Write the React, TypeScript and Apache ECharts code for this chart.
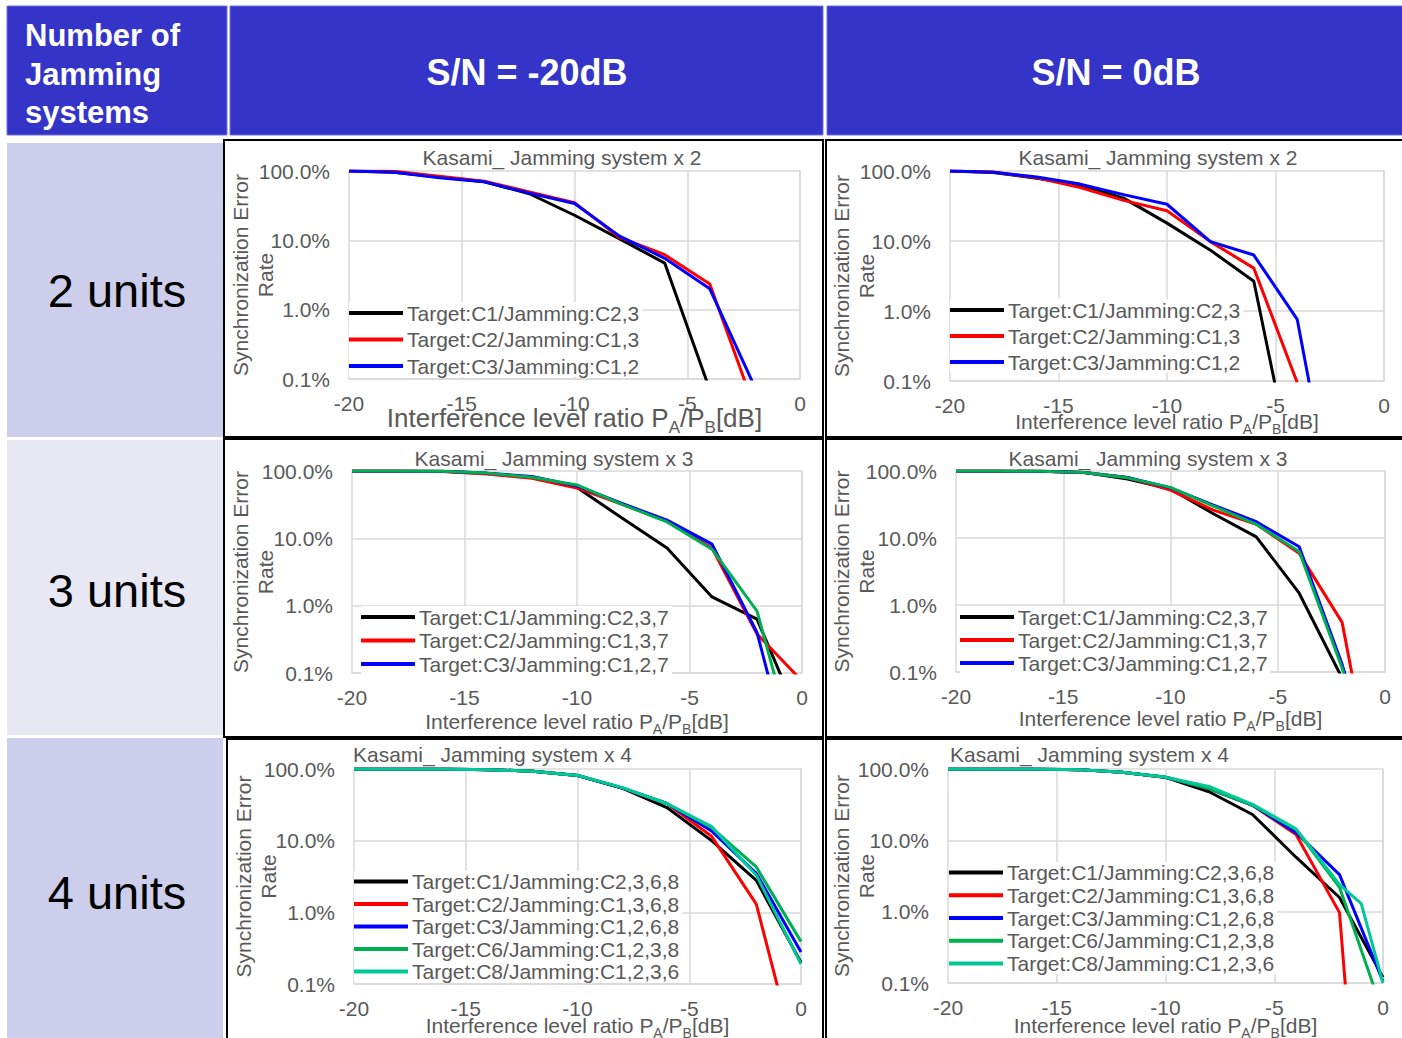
import React, { useEffect, useRef } from "react";
import * as echarts from "echarts";

// ---------- DATA ----------
const XS = [-20, -18, -16, -14, -12, -10, -8, -6, -4, -2, 0];
const XS_EXTRA = [-20, -18, -16, -14, -12, -10, -8, -6, -4, -2, -1, 0];

const NAMES_2 = ["Target:C1/Jamming:C2,3", "Target:C2/Jamming:C1,3", "Target:C3/Jamming:C1,2"];
const NAMES_3 = ["Target:C1/Jamming:C2,3,7", "Target:C2/Jamming:C1,3,7", "Target:C3/Jamming:C1,2,7", "Target:C7/Jamming:C1,2,3"];
const NAMES_4 = [
  "Target:C1/Jamming:C2,3,6,8",
  "Target:C2/Jamming:C1,3,6,8",
  "Target:C3/Jamming:C1,2,6,8",
  "Target:C6/Jamming:C1,2,3,8",
  "Target:C8/Jamming:C1,2,3,6",
];

// S/N = -20dB, 2 units
const SN20_U2_C1 = [1.0, 0.96, 0.82, 0.7, 0.47, 0.23, 0.105, 0.047, 0.0007, null, null];
const SN20_U2_C2 = [1.0, 0.99, 0.84, 0.71, 0.5, 0.35, 0.11, 0.062, 0.0235, 0.00037, null];
const SN20_U2_C3 = [1.0, 0.96, 0.8, 0.7, 0.48, 0.34, 0.115, 0.055, 0.02, 0.00076, null];
// S/N = 0dB, 2 units
const SN0_U2_C1 = [1.0, 0.95, 0.79, 0.63, 0.41, 0.18, 0.074, 0.0266, 0.000026, null, null];
const SN0_U2_C2 = [1.0, 0.97, 0.8, 0.58, 0.38, 0.27, 0.098, 0.041, 0.00095, null, null];
const SN0_U2_C3 = [1.0, 0.96, 0.82, 0.65, 0.46, 0.335, 0.098, 0.063, 0.0076, 0.000004, null];
// S/N = -20dB, 3 units
const SN20_U3_C1 = [1.0, 1.0, 0.99, 0.92, 0.8, 0.57, 0.2, 0.072, 0.0135, 0.0063, 0.00017];
const SN20_U3_C2 = [1.0, 1.0, 0.98, 0.9, 0.78, 0.56, 0.32, 0.18, 0.072, 0.0038, 0.00076];
const SN20_U3_C3 = [1.0, 1.0, 0.99, 0.93, 0.83, 0.6, 0.33, 0.186, 0.082, 0.004, 0.000011];
const SN20_U3_C7 = [1.0, 1.0, 0.99, 0.93, 0.81, 0.62, 0.32, 0.175, 0.069, 0.0083, 0.00003];
// S/N = 0dB, 3 units
const SN0_U3_C1 = [1.0, 1.0, 0.99, 0.95, 0.76, 0.54, 0.23, 0.104, 0.015, 0.00081, null];
const SN0_U3_C2 = [1.0, 1.0, 0.99, 0.94, 0.8, 0.52, 0.26, 0.16, 0.059, 0.0055, 0.0000025];
const SN0_U3_C3 = [1.0, 1.0, 0.99, 0.95, 0.8, 0.56, 0.31, 0.175, 0.074, 0.0013, 0.00001];
const SN0_U3_C7 = [1.0, 1.0, 0.99, 0.95, 0.79, 0.57, 0.3, 0.16, 0.063, 0.00115, 0.00001];
// S/N = -20dB, 4 units
const SN20_U4_C1 = [1, 1, 1, 0.98, 0.93, 0.81, 0.54, 0.29, 0.1, 0.028, 0.002];
const SN20_U4_C2 = [1, 1, 1, 0.98, 0.93, 0.81, 0.54, 0.33, 0.115, 0.013, 0.00005];
const SN20_U4_C3 = [1, 1, 1, 0.98, 0.93, 0.81, 0.54, 0.33, 0.137, 0.035, 0.0028];
const SN20_U4_C6 = [1, 1, 1, 0.98, 0.93, 0.82, 0.55, 0.33, 0.152, 0.043, 0.0039];
const SN20_U4_C8 = [1, 1, 1, 0.98, 0.93, 0.81, 0.55, 0.33, 0.157, 0.033, 0.0019];
// S/N = 0dB, 4 units
const SN0_U4_C1 = [1, 1, 1, 0.98, 0.9, 0.765, 0.48, 0.23, 0.058, 0.0158, 0.0012];
const SN0_U4_C2 = [1, 1, 1, 0.98, 0.9, 0.765, 0.53, 0.31, 0.121, 0.0097, 2.5e-10];
const SN0_U4_C3 = [1, 1, 1, 0.98, 0.9, 0.765, 0.53, 0.31, 0.128, 0.033, 0.00105];
const SN0_U4_C6 = [1, 1, 1, 0.98, 0.9, 0.765, 0.53, 0.31, 0.142, 0.022, 0.00038];
const SN0_U4_C8 = [1, 1, 1, 0.98, 0.9, 0.77, 0.57, 0.32, 0.145, 0.024, 0.013, 0.001];

const ROW_LABELS = ["2 units", "3 units", "4 units"];
const COL_LABELS = ["S/N = -20dB", "S/N = 0dB"];
const CHART_TITLES = ["Kasami_ Jamming system x 2", "Kasami_ Jamming system x 3", "Kasami_ Jamming system x 4"];

// ---------- STYLE ----------
const FONT = '"Liberation Sans", Arial, sans-serif';
const GRAY = "#595959";
const GRIDC = "#D9D9D9";
const COLORS = ["#000000", "#FF0000", "#0000FF", "#00B050", "#00C896"];

type Panel = {
  title: string;
  titleX: number;
  titleY: number;
  titleAlign: string;
  grid: { left: number; top: number; width: number; height: number };
  xNameSize: number;
  xNameGap: number;
  yNameGap: number;
  legend: { left: number; top: number; lineHeight: number; gap: number; names: string[] };
  series: { name: string; xs: number[]; ys: (number | null)[] }[];
};

const PANELS: Panel[] = [
  {
    title: CHART_TITLES[0], titleX: 562, titleY: 157, titleAlign: "center",
    grid: { left: 349, top: 171, width: 451, height: 208 },
    xNameSize: 26, xNameGap: 21, yNameGap: 71,
    legend: { left: 349, top: 302, lineHeight: 22, gap: 4.5, names: NAMES_2 },
    series: [
      { name: NAMES_2[0], xs: XS, ys: SN20_U2_C1 },
      { name: NAMES_2[1], xs: XS, ys: SN20_U2_C2 },
      { name: NAMES_2[2], xs: XS, ys: SN20_U2_C3 },
    ],
  },
  {
    title: CHART_TITLES[0], titleX: 1158, titleY: 157, titleAlign: "center",
    grid: { left: 950, top: 171, width: 434, height: 210 },
    xNameSize: 21, xNameGap: 26, yNameGap: 71,
    legend: { left: 950, top: 299, lineHeight: 22, gap: 4, names: NAMES_2 },
    series: [
      { name: NAMES_2[0], xs: XS, ys: SN0_U2_C1 },
      { name: NAMES_2[1], xs: XS, ys: SN0_U2_C2 },
      { name: NAMES_2[2], xs: XS, ys: SN0_U2_C3 },
    ],
  },
  {
    title: CHART_TITLES[1], titleX: 554, titleY: 458, titleAlign: "center",
    grid: { left: 352, top: 471, width: 450, height: 202 },
    xNameSize: 21, xNameGap: 34, yNameGap: 74,
    legend: { left: 361, top: 606, lineHeight: 22, gap: 1.5, names: NAMES_3.slice(0, 3) },
    series: [
      { name: NAMES_3[0], xs: XS, ys: SN20_U3_C1 },
      { name: NAMES_3[1], xs: XS, ys: SN20_U3_C2 },
      { name: NAMES_3[2], xs: XS, ys: SN20_U3_C3 },
      { name: NAMES_3[3], xs: XS, ys: SN20_U3_C7 },
    ],
  },
  {
    title: CHART_TITLES[1], titleX: 1148, titleY: 458, titleAlign: "center",
    grid: { left: 956, top: 471, width: 429, height: 201 },
    xNameSize: 21, xNameGap: 32, yNameGap: 77,
    legend: { left: 960, top: 606, lineHeight: 22, gap: 1, names: NAMES_3.slice(0, 3) },
    series: [
      { name: NAMES_3[0], xs: XS, ys: SN0_U3_C1 },
      { name: NAMES_3[1], xs: XS, ys: SN0_U3_C2 },
      { name: NAMES_3[2], xs: XS, ys: SN0_U3_C3 },
      { name: NAMES_3[3], xs: XS, ys: SN0_U3_C7 },
    ],
  },
  {
    title: CHART_TITLES[2], titleX: 353, titleY: 754, titleAlign: "left",
    grid: { left: 354, top: 769, width: 447, height: 215 },
    xNameSize: 21, xNameGap: 27, yNameGap: 73,
    legend: { left: 354, top: 871, lineHeight: 21, gap: 1.5, names: NAMES_4 },
    series: [
      { name: NAMES_4[0], xs: XS, ys: SN20_U4_C1 },
      { name: NAMES_4[1], xs: XS, ys: SN20_U4_C2 },
      { name: NAMES_4[2], xs: XS, ys: SN20_U4_C3 },
      { name: NAMES_4[3], xs: XS, ys: SN20_U4_C6 },
      { name: NAMES_4[4], xs: XS, ys: SN20_U4_C8 },
    ],
  },
  {
    title: CHART_TITLES[2], titleX: 950, titleY: 754, titleAlign: "left",
    grid: { left: 948, top: 769, width: 435, height: 214 },
    xNameSize: 21, xNameGap: 28, yNameGap: 69,
    legend: { left: 949, top: 862, lineHeight: 21, gap: 1.75, names: NAMES_4 },
    series: [
      { name: NAMES_4[0], xs: XS, ys: SN0_U4_C1 },
      { name: NAMES_4[1], xs: XS, ys: SN0_U4_C2 },
      { name: NAMES_4[2], xs: XS, ys: SN0_U4_C3 },
      { name: NAMES_4[3], xs: XS, ys: SN0_U4_C6 },
      { name: NAMES_4[4], xs: XS_EXTRA, ys: SN0_U4_C8 },
    ],
  },
];

function fmtPct(v: number) {
  return (v * 100).toFixed(1) + "%";
}

function buildOption() {
  const grid: any[] = [];
  const xAxis: any[] = [];
  const yAxis: any[] = [];
  const series: any[] = [];
  const legend: any[] = [];
  const elements: any[] = [];

  const HEADER = "#3434C8";
  elements.push(
    { type: "rect", z: -10, shape: { x: 7, y: 6, width: 220, height: 129 }, style: { fill: HEADER, stroke: "#7070DC", lineWidth: 1 } },
    { type: "rect", z: -10, shape: { x: 230, y: 6, width: 593, height: 129 }, style: { fill: HEADER, stroke: "#7070DC", lineWidth: 1 } },
    { type: "rect", z: -10, shape: { x: 827, y: 6, width: 580, height: 129 }, style: { fill: HEADER, stroke: "#7070DC", lineWidth: 1 } },
    { type: "rect", z: -10, shape: { x: 7, y: 143, width: 216, height: 294 }, style: { fill: "#CCCEEB" } },
    { type: "rect", z: -10, shape: { x: 7, y: 440, width: 216, height: 295 }, style: { fill: "#E8E8F5" } },
    { type: "rect", z: -10, shape: { x: 7, y: 738, width: 216, height: 310 }, style: { fill: "#CCCEEB" } },
    { type: "rect", z: -5, shape: { x: 224, y: 140, width: 599, height: 297 }, style: { fill: "none", stroke: "#000", lineWidth: 2 } },
    { type: "rect", z: -5, shape: { x: 826, y: 140, width: 590, height: 297 }, style: { fill: "none", stroke: "#000", lineWidth: 2 } },
    { type: "rect", z: -5, shape: { x: 224, y: 439, width: 599, height: 298 }, style: { fill: "none", stroke: "#000", lineWidth: 2 } },
    { type: "rect", z: -5, shape: { x: 826, y: 439, width: 590, height: 298 }, style: { fill: "none", stroke: "#000", lineWidth: 2 } },
    { type: "rect", z: -5, shape: { x: 227, y: 739, width: 596, height: 310 }, style: { fill: "none", stroke: "#000", lineWidth: 2 } },
    { type: "rect", z: -5, shape: { x: 826, y: 739, width: 590, height: 310 }, style: { fill: "none", stroke: "#000", lineWidth: 2 } },
    {
      type: "text", x: 25, y: 74,
      style: { text: "Number of\nJamming\nsystems", fill: "#fff", fontSize: 31, fontWeight: "bold", fontFamily: FONT, lineHeight: 38.5, align: "left", verticalAlign: "middle" },
    },
    { type: "text", x: 527, y: 72, style: { text: COL_LABELS[0], fill: "#fff", fontSize: 36, fontWeight: "bold", fontFamily: FONT, align: "center", verticalAlign: "middle" } },
    { type: "text", x: 1116, y: 72, style: { text: COL_LABELS[1], fill: "#fff", fontSize: 36, fontWeight: "bold", fontFamily: FONT, align: "center", verticalAlign: "middle" } },
    { type: "text", x: 117, y: 290, style: { text: ROW_LABELS[0], fill: "#000", fontSize: 47, fontFamily: FONT, align: "center", verticalAlign: "middle" } },
    { type: "text", x: 117, y: 590, style: { text: ROW_LABELS[1], fill: "#000", fontSize: 47, fontFamily: FONT, align: "center", verticalAlign: "middle" } },
    { type: "text", x: 117, y: 892, style: { text: ROW_LABELS[2], fill: "#000", fontSize: 47, fontFamily: FONT, align: "center", verticalAlign: "middle" } }
  );

  PANELS.forEach((p, i) => {
    grid.push({ ...p.grid, containLabel: false, outerBoundsMode: "none" });
    const subSize = Math.round(p.xNameSize * 0.66);
    const lh = Math.round(p.xNameSize * 1.4);
    xAxis.push({
      type: "value",
      gridIndex: i,
      min: -20,
      max: 0,
      interval: 5,
      axisLine: { show: true, lineStyle: { color: GRIDC, width: 1.5 } },
      axisTick: { show: false },
      splitLine: { show: true, lineStyle: { color: GRIDC, width: 1.5 } },
      axisLabel: { color: GRAY, fontSize: 21, fontFamily: FONT, margin: 14 },
      name: "Interference level ratio P{s|A}/P{s|B}[dB]",
      nameLocation: "middle",
      nameGap: p.xNameGap,
      nameMoveOverlap: false,
      nameTextStyle: {
        color: GRAY,
        fontSize: p.xNameSize,
        fontFamily: FONT,
        lineHeight: lh,
        rich: {
          s: { fontSize: subSize, lineHeight: subSize, verticalAlign: "bottom", color: GRAY, fontFamily: FONT },
        },
      },
    });
    yAxis.push({
      type: "log",
      logBase: 10,
      gridIndex: i,
      min: 0.001,
      max: 1,
      axisLine: { show: true, lineStyle: { color: GRIDC, width: 1.5 } },
      axisTick: { show: false },
      splitLine: { show: true, lineStyle: { color: GRIDC, width: 1.5 } },
      axisLabel: { color: GRAY, fontSize: 21, fontFamily: FONT, margin: 19, formatter: (v: number) => fmtPct(v) },
      name: "Synchronization Error\nRate",
      nameLocation: "middle",
      nameGap: p.yNameGap,
      nameMoveOverlap: false,
      nameTextStyle: { color: GRAY, fontSize: 21, fontFamily: FONT, lineHeight: 25 },
    });
    p.series.forEach((s, k) => {
      const data: number[][] = [];
      s.xs.forEach((x, j) => {
        const y = s.ys[j];
        if (y !== null && y !== undefined) data.push([x, y]);
      });
      series.push({
        type: "line",
        name: s.name,
        xAxisIndex: i,
        yAxisIndex: i,
        data,
        color: COLORS[k],
        symbol: "none",
        showSymbol: false,
        clip: true,
        lineStyle: { width: 3, color: COLORS[k] },
        itemStyle: { color: COLORS[k] },
      });
    });
    legend.push({
      data: p.legend.names,
      orient: "vertical",
      left: p.legend.left,
      top: p.legend.top,
      padding: [0, 3, 0, 0],
      itemGap: p.legend.gap,
      itemWidth: 54,
      itemHeight: 4,
      icon: "rect",
      backgroundColor: "#ffffff",
      selectedMode: false,
      textStyle: { color: GRAY, fontSize: 21, fontFamily: FONT, lineHeight: p.legend.lineHeight, padding: [0, 0, 0, -1] },
    });
    elements.push({
      type: "text",
      x: p.titleX,
      y: p.titleY,
      style: { text: p.title, fill: GRAY, fontSize: 21, fontFamily: FONT, align: p.titleAlign, verticalAlign: "middle" },
    });
  });

  return {
    animation: false,
    backgroundColor: "#ffffff",
    textStyle: { fontFamily: FONT },
    grid,
    xAxis,
    yAxis,
    series,
    legend,
    graphic: { elements },
  };
}

export default function App() {
  const ref = useRef<HTMLDivElement>(null);
  useEffect(() => {
    if (!ref.current) return;
    const chart = echarts.init(ref.current, undefined, { renderer: "svg" });
    chart.setOption(buildOption() as any);
    return () => chart.dispose();
  }, []);
  return (
    <div
      ref={ref}
      style={{ position: "absolute", left: 0, top: 0, width: 1402, height: 1038, background: "#fff" }}
    />
  );
}
